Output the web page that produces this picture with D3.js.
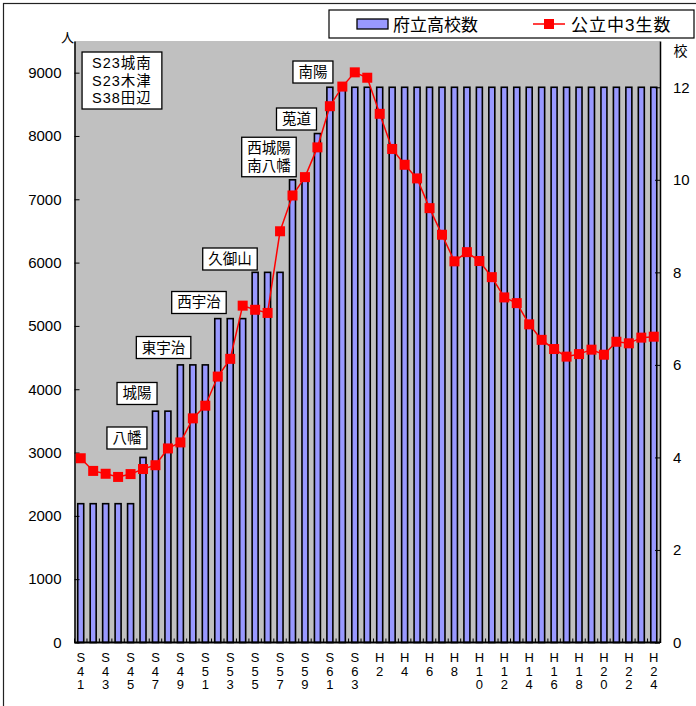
<!DOCTYPE html>
<html>
<head>
<meta charset="utf-8">
<script src="https://cdn.jsdelivr.net/npm/d3@7"></script>
<style>
  html, body { margin: 0; padding: 0; background: #fff; }
  svg { display: block; }
  text { font-family: "Liberation Sans", Arial, "Noto Sans CJK JP", sans-serif; fill: #000; }
  .jp { font-family: "Liberation Sans", "Noto Sans CJK JP", sans-serif; }
</style>
</head>
<body>
<svg id="chart" width="696" height="706"></svg>
<script>
// categories: S41..S63, H1..H24
const years = [
  "S41","S42","S43","S44","S45","S46","S47","S48","S49","S50","S51","S52",
  "S53","S54","S55","S56","S57","S58","S59","S60","S61","S62","S63",
  "H1","H2","H3","H4","H5","H6","H7","H8","H9","H10","H11","H12","H13",
  "H14","H15","H16","H17","H18","H19","H20","H21","H22","H23","H24"
];
// 府立高校数 (right axis)
const schools = [
  3,3,3,3,3,4,5,5,6,6,6,7,7,7,8,8,8,10,10,11,12,12,12,
  12,12,12,12,12,12,12,12,12,12,12,12,12,12,12,12,12,12,12,12,12,12,12,12
];
// 公立中3生数 (left axis)
const students = [
  2910,2710,2665,2615,2660,2740,2800,3065,3160,3540,3740,4200,
  4480,5320,5255,5205,6495,7060,7350,7820,8470,8780,9005,
  8920,8350,7795,7545,7330,6860,6440,6020,6165,6025,5770,5450,5360,
  5025,4780,4635,4515,4555,4625,4545,4750,4725,4815,4830
];
const leftTicks = [0,1000,2000,3000,4000,5000,6000,7000,8000,9000];
const rightTicks = [0,2,4,6,8,10,12];
const legendNames = ["府立高校数", "公立中3生数"];

// text boxes: lines, anchor (fractional year index, left-axis value)
const noteLines = [
  ["S23城南","S23木津","S38田辺"], ["八幡"], ["城陽"], ["東宇治"], ["西宇治"],
  ["久御山"], ["西城陽","南八幡"], ["莵道"], ["南陽"]
];
const noteIdx = [3.31, 3.71, 4.52, 6.65, 9.49, 11.98, 15.11, 17.32, 18.64];
const noteVal = [8876, 3230, 3933, 4659, 5370, 6057, 7668, 8268, 9010];

const svg = d3.select("#chart");
const L = 74.5, R = 660, T = 41, B = 642.5;

// outer frame
svg.append("rect").attr("x", 3.5).attr("y", 3.5).attr("width", 700).attr("height", 710)
  .attr("fill", "#fff").attr("stroke", "#222").attr("stroke-width", 1.2);

// plot area
svg.append("rect").attr("x", L).attr("y", T).attr("width", R - L).attr("height", B - T)
  .attr("fill", "#c0c0c0");

const x = d3.scaleBand().domain(years).range([L, R]).paddingInner(0.52).paddingOuter(0.26);
const yL = d3.scaleLinear().domain([0, 9500]).range([B, T]);
const yR = d3.scaleLinear().domain([0, 13]).range([B, T]);
const bw = x.bandwidth();
const cx = d => x(d) + bw / 2;

// bars
svg.append("g").selectAll("rect").data(years).join("rect")
  .attr("x", d => x(d))
  .attr("y", (d, i) => yR(schools[i]))
  .attr("width", bw)
  .attr("height", (d, i) => B - yR(schools[i]))
  .attr("fill", "#9999ff").attr("stroke", "#000").attr("stroke-width", 1.6);

// left axis
const axL = svg.append("g").attr("transform", `translate(${L},0)`)
  .call(d3.axisLeft(yL).tickValues(leftTicks).tickFormat(d3.format("d"))
    .tickSizeInner(-5).tickSizeOuter(0).tickPadding(13));
axL.select(".domain").attr("stroke", "#000").attr("stroke-width", 1.5);
axL.selectAll("text").attr("font-size", 15);

// right axis
const axR = svg.append("g").attr("transform", `translate(${R},0)`)
  .call(d3.axisRight(yR).tickValues(rightTicks).tickFormat(d3.format("d"))
    .tickSizeInner(-5).tickSizeOuter(0).tickPadding(13));
axR.select(".domain").attr("stroke", "#000").attr("stroke-width", 1.5);
axR.selectAll("text").attr("font-size", 15);

// baseline with small category ticks
const bounds = years.map(d => x(d) - x.step() * x.paddingInner() / 2).concat([R]);
svg.append("g").selectAll("line").data(bounds).join("line")
  .attr("x1", d => d).attr("x2", d => d).attr("y1", B).attr("y2", B - 4)
  .attr("stroke", "#000").attr("stroke-width", 1);
svg.append("line").attr("x1", L).attr("x2", R).attr("y1", B).attr("y2", B)
  .attr("stroke", "#000").attr("stroke-width", 2);

// x labels, vertical stacked characters, every other year
const xl = svg.append("g").selectAll("text").data(years.filter((d, i) => i % 2 === 0)).join("text")
  .attr("font-size", 13).attr("text-anchor", "middle");
xl.each(function(d) {
  const t = d3.select(this);
  d.split("").forEach((ch, k) => {
    t.append("tspan").attr("x", cx(d)).attr("y", 662 + k * 13.5).text(ch);
  });
});

// axis unit labels
svg.append("text").attr("class", "jp").attr("x", 67.5).attr("y", 42).attr("font-size", 13)
  .attr("text-anchor", "middle").text("人");
svg.append("text").attr("class", "jp").attr("x", 680.5).attr("y", 56).attr("font-size", 14)
  .attr("text-anchor", "middle").text("校");

// line + markers
const line = d3.line().x((d, i) => cx(years[i])).y(d => yL(d));
svg.append("path").datum(students).attr("d", line)
  .attr("fill", "none").attr("stroke", "#ff0000").attr("stroke-width", 1.5);
svg.append("g").selectAll("rect").data(students).join("rect")
  .attr("x", (d, i) => cx(years[i]) - 5).attr("y", d => yL(d) - 5)
  .attr("width", 10).attr("height", 10).attr("fill", "#ff0000");

// text boxes
const xi = d3.scaleLinear().domain([0, years.length - 1]).range([cx(years[0]), cx(years[years.length - 1])]);
noteLines.forEach((lines, n) => {
  const g = svg.append("g");
  const px = xi(noteIdx[n]), py = yL(noteVal[n]);
  const lh = 17.5;
  const box = g.append("rect").attr("fill", "#fff").attr("stroke", "#000").attr("stroke-width", 1.3);
  const t = g.append("text").attr("class", "jp").attr("font-size", 14.5).attr("text-anchor", "middle")
    .attr("letter-spacing", lines.length === 3 ? 1 : 0);
  lines.forEach((s, k) => {
    t.append("tspan").attr("x", px).attr("y", py - (lines.length - 1) * lh / 2 + k * lh + 5).text(s);
  });
  let w = 0;
  t.selectAll("tspan").each(function() { w = Math.max(w, this.getComputedTextLength()); });
  const pad = lines.length === 3 ? 10 : 5.5;
  const h = lines.length * lh + 4.5;
  box.attr("x", px - w / 2 - pad).attr("y", py - h / 2).attr("width", w + 2 * pad).attr("height", h);
});

// legend
const lg = svg.append("g");
lg.append("rect").attr("x", 329).attr("y", 10).attr("width", 365).attr("height", 28)
  .attr("fill", "#fff").attr("stroke", "#000").attr("stroke-width", 1.2);
lg.append("rect").attr("x", 357).attr("y", 19).attr("width", 31).attr("height", 10)
  .attr("fill", "#9999ff").attr("stroke", "#000").attr("stroke-width", 1.3);
lg.append("text").attr("class", "jp").attr("x", 393).attr("y", 30.5).attr("font-size", 17).text(legendNames[0]);
lg.append("line").attr("x1", 533).attr("x2", 565).attr("y1", 24).attr("y2", 24)
  .attr("stroke", "#ff0000").attr("stroke-width", 1.5);
lg.append("rect").attr("x", 544).attr("y", 19).attr("width", 10).attr("height", 10).attr("fill", "#ff0000");
lg.append("text").attr("class", "jp").attr("x", 571).attr("y", 30.5).attr("font-size", 17)
  .attr("letter-spacing", 1).text(legendNames[1]);
</script>
</body>
</html>
